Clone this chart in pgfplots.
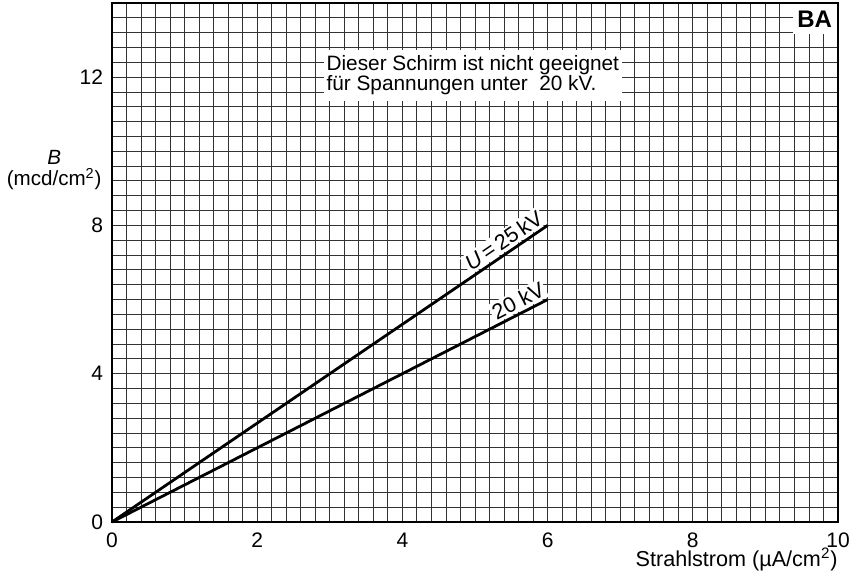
\documentclass[border=0pt]{standalone}
\usepackage{fontspec}
\setmainfont{Liberation Sans}
\usepackage{pgfplots}
\pgfplotsset{compat=1.18}
\begin{document}
\begin{tikzpicture}
\begin{axis}[
  name=ax, at={(0,0)}, anchor=south west,
  set layers,
  scale only axis, width=363pt, height=259.5pt,
  xmin=0, xmax=10, ymin=0, ymax=14,
  xtick={0,2,...,10}, ytick={0,4,8,12},
  minor xtick={0.2,0.4,...,9.9}, minor ytick={0.4,0.8,...,13.9},
  grid=both,
  major grid style={black!80, line width=0.5pt},
  minor grid style={black!80, line width=0.45pt},
  major tick length=0pt, minor tick length=0pt,
  axis line style={black, line width=1pt},
  tick label style={font=\fontsize{10.5}{12}\selectfont},
  xticklabel style={yshift=-2pt},
  yticklabel style={xshift=-1pt},
  /pgf/number format/assume math mode=true,
  clip=false,
]
\addplot[black, line width=1.4pt] coordinates {(0,0) (6,8)}
  node[pos=0.915, sloped, above=0.5pt, fill=white, inner sep=1pt, font=\fontsize{10.8}{11}\selectfont] {\textit{U}\,=\,25\,kV};
\addplot[black, line width=1.4pt] coordinates {(0,0) (6,6)}
  node[pos=0.945, sloped, above=0.5pt, fill=white, inner sep=1pt, font=\fontsize{10.8}{11}\selectfont] {20 kV};
\node[fill=white, inner xsep=1.5pt, inner ysep=3pt, align=left, font=\fontsize{10.4}{10}\selectfont]
  at (axis cs:4.97,12.05) {Dieser Schirm ist nicht geeignet\\für Spannungen unter~ 20 kV.};
\node[anchor=north east, fill=white, inner sep=0pt, minimum width=22pt, minimum height=15pt,
  font=\bfseries\fontsize{12}{12}\selectfont] at ([xshift=-0.5pt,yshift=-0.5pt]rel axis cs:1,1) {BA};
\end{axis}
\node[anchor=east, align=center, inner sep=0pt, font=\fontsize{10.3}{10.5}\selectfont] at (-5pt,{259.5pt*9.5/14}) {\textit{B}\\(mcd/cm\textsuperscript{2})};
\node[anchor=north east, font=\fontsize{10.8}{11}\selectfont, inner sep=0pt] at (363pt,-13pt) {Strahlstrom (µA/cm\textsuperscript{2})};
\pgfresetboundingbox
\useasboundingbox (-56pt,-25.5pt) rectangle (369pt,261pt);
\end{tikzpicture}
\end{document}
